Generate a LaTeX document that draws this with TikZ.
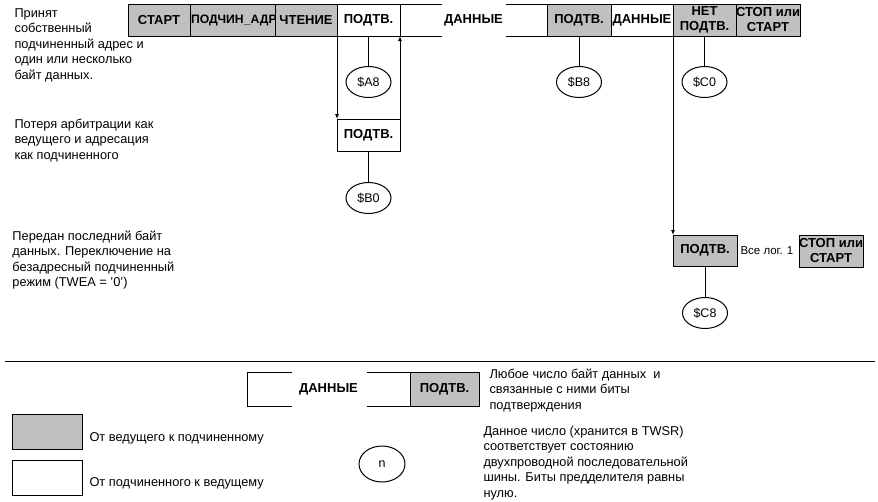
\documentclass[tikz,border=0pt]{standalone}
\usepackage{fontspec}
\setmainfont{Liberation Sans}
\usetikzlibrary{arrows.meta,positioning,shapes.geometric}
\definecolor{mastergray}{RGB}{192,192,192}
\tikzset{
  master/.style ={draw,fill=mastergray,align=center,inner sep=0pt,outer sep=0pt,minimum height=32pt,
                  font=\bfseries\fontsize{13}{15}\selectfont},
  slave/.style  ={master,fill=white},
  gap/.style    ={inner sep=0pt,outer sep=0pt,minimum height=32pt,font=\bfseries\fontsize{13}{15}\selectfont},
  status/.style ={draw,ellipse,inner sep=0pt,minimum width=45pt,minimum height=31pt,font=\fontsize{12.5}{14}\selectfont},
  note/.style   ={anchor=base west,align=left,inner sep=0pt,font=\fontsize{12.8}{15.5}\selectfont},
  arrow/.style  ={-{Latex[length=5pt,width=4pt]}}
}
\begin{document}
\begin{tikzpicture}[x=1pt,y=-1pt,line width=1pt]
  \useasboundingbox (0,0) rectangle (878,501);
  % frame sequence
  \node[master,minimum width=62pt] (start) at (159,20) {СТАРТ};
  \node[master,minimum width=85pt,right=0pt of start,font=\bfseries\fontsize{12.2}{15}\selectfont] (addr) {\makebox[83pt][l]{ПОДЧИН\_АДР}};
  \node[master,minimum width=62pt,right=0pt of addr] (read) {ЧТЕНИЕ};
  \node[slave, minimum width=63pt,right=0pt of read] (ack1) {ПОДТВ.};
  \node[gap,   minimum width=147pt,right=0pt of ack1] (data1) {ДАННЫЕ};
  \node[master,minimum width=64pt,right=0pt of data1] (ack2) {ПОДТВ.};
  \node[slave, minimum width=62pt,right=0pt of ack2] (data2) {ДАННЫЕ};
  \node[master,minimum width=63pt,right=0pt of data2] (nack) {НЕТ\\ПОДТВ.};
  \node[master,minimum width=63pt,right=0pt of nack] (stop1) {СТОП или\\СТАРТ};
  \draw (data1.north west) -- ++(42,0) (data1.north east) -- ++(-41,0)
        (data1.south west) -- ++(42,0) (data1.south east) -- ++(-41,0);

  % lost arbitration
  \node[slave,minimum width=63pt] (ack3) at (368.5,135) {ПОДТВ.};
  \draw[arrow] (ack1.south west) -- (ack3.north west);
  \draw[arrow] (ack3.north east) -- (ack1.south east);

  % last byte
  \node[master,minimum width=64pt,minimum height=31pt] (ack4) at (705,250.5) {ПОДТВ.};
  \node[note,font=\fontsize{11.5}{14}\selectfont] (allones) at (740,254) {Все лог. 1};
  \node[master,minimum width=64pt] (stop2) at (831,251) {СТОП или\\СТАРТ};
  \draw[arrow] (nack.south west) -- (ack4.north west);

  % status codes
  \node[status] (sA8) at (368.5,82)  {\$A8};
  \node[status] (sB0) at (368.5,198) {\$B0};
  \node[status] (sB8) at (579,82)    {\$B8};
  \node[status] (sC0) at (704.5,82)  {\$C0};
  \node[status] (sC8) at (705,313)   {\$C8};
  \draw (ack1.south) -- (sA8.north);
  \draw (ack3.south) -- (sB0.north);
  \draw (ack2.south) -- (sB8.north);
  \draw (nack.south) -- (sC0.north);
  \draw (ack4.south) -- (sC8.north);

  % notes (base = last line)
  \node[note] (n1) at (14,79)    {Принят\\собственный\\подчиненный адрес и\\один или несколько\\байт данных.};
  \node[note] (n2) at (14,159)   {Потеря арбитрации как\\ведущего и адресация\\как подчиненного};
  \node[note] (n3) at (12,286.5) {Передан последний байт\\данных. Переключение на\\безадресный подчиненный\\режим (TWEA = '0')};

  \draw (5,361) -- (875,361);

  % legend
  \node[gap,minimum width=163pt,minimum height=34pt] (lgdata) at (328.5,389) {ДАННЫЕ};
  \node[master,minimum width=69pt,minimum height=34pt,right=0pt of lgdata] (lgack) {ПОДТВ.};
  \draw (lgdata.north west) ++(45,0) -- (lgdata.north west) -- (lgdata.south west) -- ++(45,0)
        (lgdata.north east) -- ++(-43,0) (lgdata.south east) -- ++(-43,0);
  \node[note] (lgtext) at (489,409) {Любое число байт данных\ \ и\\связанные с ними биты\\подтверждения};
  \node[master,minimum width=70pt,minimum height=35pt] (lgmaster) at (47,431.5) {};
  \node[slave, minimum width=70pt,minimum height=35pt] (lgslave)  at (47,477.5) {};
  \node[note] at (89,441) {От ведущего к подчиненному};
  \node[note] at (89,486) {От подчиненного к ведущему};
  \node[status,minimum width=46pt,minimum height=36pt] (lgn) at (382,464) {n};
  \node[note] (lgntext) at (483,497) {Данное число (хранится в TWSR)\\соответствует состоянию\\двухпроводной последовательной\\шины. Биты предделителя равны\\нулю.};
\end{tikzpicture}
\end{document}
